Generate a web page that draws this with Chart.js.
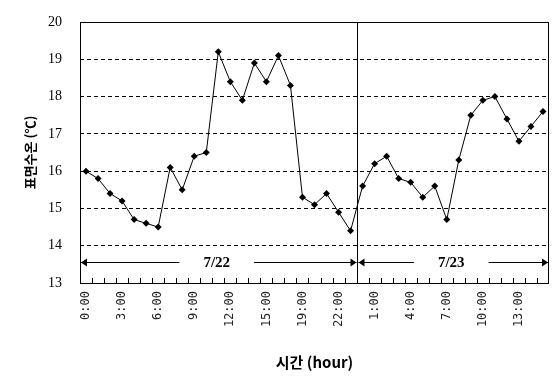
<!DOCTYPE html>
<html>
<head>
<meta charset="utf-8">
<script src="https://cdn.jsdelivr.net/npm/chart.js@4/dist/chart.umd.min.js"></script>
<style>
  html, body { margin: 0; padding: 0; background: #fff; }
  #wrap { width: 559px; height: 381px; }
</style>
</head>
<body>
<div id="wrap"><canvas id="myChart" width="559" height="381"></canvas></div>
<script>
// hours of the two days (7/22 has no 16:00 reading)
const day1Hours = ['0:00','1:00','2:00','3:00','4:00','5:00','6:00','7:00','8:00','9:00','10:00','11:00',
    '12:00','13:00','14:00','15:00','17:00','18:00','19:00','20:00','21:00','22:00','23:00']
const day2Hours = ['0:00','1:00','2:00','3:00','4:00','5:00','6:00','7:00','8:00','9:00','10:00','11:00',
    '12:00','13:00','14:00','15:00']

const day1Temps = [16.0, 15.8, 15.4, 15.2, 14.7, 14.6, 14.5, 16.1, 15.5, 16.4, 16.5, 19.2,
    18.4, 17.9, 18.9, 18.4, 19.1, 18.3, 15.3, 15.1, 15.4, 14.9, 14.4]
const day2Temps = [15.6, 16.2, 16.4, 15.8, 15.7, 15.3, 15.6, 14.7, 16.3, 17.5, 17.9, 18.0,
    17.4, 16.8, 17.2, 17.6]

const dayNames = ['7/22', '7/23']
const arrowLevel = 13.55

const labels = day1Hours.concat(day2Hours)
const temps = day1Temps.concat(day2Temps)

// frame, inner ticks, day divider and the day arrows
const decorations = {
    id: 'decorations',
    afterDatasetsDraw(chart) {
        const ctx = chart.ctx
        const area = chart.chartArea
        const x = chart.scales.x
        const y = chart.scales.y
        const step = x.getPixelForValue(1) - x.getPixelForValue(0)
        ctx.save()
        ctx.strokeStyle = '#000'
        ctx.fillStyle = '#000'
        ctx.lineWidth = 1

        // inner tick marks between categories
        ctx.beginPath()
        for (let i = 1; i < labels.length; i++) {
            const px = Math.round(x.getPixelForValue(i) - step / 2) + 0.5
            ctx.moveTo(px, area.bottom)
            ctx.lineTo(px, area.bottom - 5)
        }
        ctx.stroke()

        // day divider
        const split = Math.round(x.getPixelForValue(day1Hours.length) - step / 2) + 0.5
        ctx.beginPath()
        ctx.moveTo(split, area.top)
        ctx.lineTo(split, area.bottom)
        ctx.stroke()

        // frame
        ctx.strokeRect(Math.round(area.left) + 0.5, Math.round(area.top) + 0.5,
            Math.round(area.right - area.left) - 1, Math.round(area.bottom - area.top))

        // arrows with day names
        const ay = Math.round(y.getPixelForValue(arrowLevel)) + 0.5
        const spans = [[area.left, split], [split, area.right]]
        ctx.font = 'bold 15px "Liberation Serif", serif'
        ctx.textAlign = 'center'
        ctx.textBaseline = 'middle'
        spans.forEach(([a, b], k) => {
            const mid = (a + b) / 2 - 2
            const half = ctx.measureText(dayNames[k]).width / 2 + 24
            ctx.beginPath()
            ctx.moveTo(a + 1, ay)
            ctx.lineTo(mid - half, ay)
            ctx.moveTo(mid + half, ay)
            ctx.lineTo(b - 1, ay)
            ctx.stroke()
            // heads
            ctx.beginPath()
            ctx.moveTo(a + 1, ay)
            ctx.lineTo(a + 7, ay - 4)
            ctx.lineTo(a + 7, ay + 4)
            ctx.closePath()
            ctx.moveTo(b - 1, ay)
            ctx.lineTo(b - 7, ay - 4)
            ctx.lineTo(b - 7, ay + 4)
            ctx.closePath()
            ctx.fill()
            ctx.fillText(dayNames[k], mid, ay + 1)
        })
        ctx.restore()
    }
}

const ctx = document.getElementById('myChart')
new Chart(ctx, {
    type: 'line',
    data: {
        labels: labels,
        datasets: [{
            data: temps,
            borderColor: '#000',
            borderWidth: 1,
            backgroundColor: '#000',
            pointStyle: 'rectRot',
            pointRadius: 3.5,
            pointBackgroundColor: '#000',
            pointBorderWidth: 0,
            tension: 0,
            fill: false
        }]
    },
    options: {
        responsive: false,
        animation: false,
        layout: {
            padding: { top: 22, right: 10, left: 0, bottom: 0 }
        },
        scales: {
            x: {
                type: 'category',
                offset: true,
                grid: { display: false, drawTicks: false },
                border: { display: false },
                ticks: {
                    autoSkip: false,
                    minRotation: 90,
                    maxRotation: 90,
                    padding: 8,
                    color: '#222',
                    font: { family: '"DejaVu Sans Mono", monospace', size: 12 },
                    callback: function (value, index) {
                        return index % 3 === 0 ? this.getLabelForValue(value) : ''
                    }
                },
                title: {
                    display: true,
                    text: '시간 (hour)',
                    color: '#000',
                    font: { family: '"Noto Sans CJK KR", "Liberation Sans", sans-serif', size: 15, weight: 'bold' },
                    padding: { top: 0, bottom: 10 }
                },
                afterFit(scale) {
                    scale.height = 98
                    scale.paddingLeft = 0
                    scale.paddingRight = 0
                }
            },
            y: {
                min: 13,
                max: 20,
                grid: {
                    drawTicks: false,
                    color: c => (c.tick && (c.tick.value === 13 || c.tick.value === 20)) ? 'rgba(0,0,0,0)' : '#000',
                    lineWidth: 1
                },
                border: { display: false, dash: [4, 3] },
                ticks: {
                    stepSize: 1,
                    padding: 18,
                    color: '#000',
                    font: { family: '"Liberation Serif", "Times New Roman", serif', size: 14 }
                },
                title: {
                    display: true,
                    text: '표면수온 (℃)',
                    color: '#000',
                    font: { family: '"Noto Sans CJK KR", sans-serif', size: 13, weight: 'bold' },
                    padding: { top: 22, bottom: 0 }
                },
                afterFit(scale) {
                    scale.width = 80
                    scale.paddingTop = 0
                    scale.paddingBottom = 0
                }
            }
        },
        plugins: {
            legend: { display: false },
            tooltip: { enabled: false }
        }
    },
    plugins: [decorations]
})
</script>
</body>
</html>
